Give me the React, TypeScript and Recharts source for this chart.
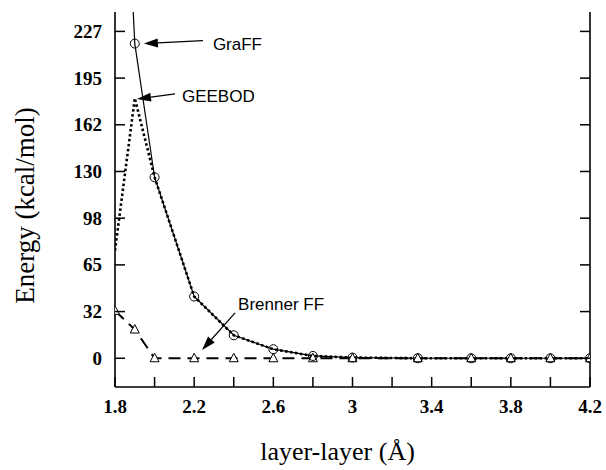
import React from "react";
import { LineChart, Line, XAxis, YAxis, ReferenceDot } from "recharts";

// layer-layer distance (Å)
const distances = [1.8, 1.9, 2.0, 2.2, 2.4, 2.6, 2.8, 3.0, 3.33, 3.6, 3.8, 4.0, 4.2];
// energies in kcal/mol
const graff = [500, 219, 126, 43, 16, 6.3, 1.6, 0.5, 0, 0, 0, 0, 0];
const geebod = [75, 181, 126, 43, 16, 6.3, 1.6, 0.5, 0, 0, 0, 0, 0];
const brenner = [33, 20, 0, 0, 0, 0, 0, 0, 0, 0, 0, 0, 0];

const xTicks = [1.8, 2.0, 2.2, 2.4, 2.6, 2.8, 3.0, 3.2, 3.4, 3.6, 3.8, 4.0, 4.2];
const xTickLabels = ["1.8", "", "2.2", "", "2.6", "", "3", "", "3.4", "", "3.8", "", "4.2"];
const yTicks = [0, 32.5, 65, 97.5, 130, 162.5, 195, 227.5];
const yTickLabels = ["0", "32", "65", "98", "130", "162", "195", "227"];

// callouts: text and where the arrow points (data coords)
const calloutText = ["GraFF", "GEEBOD", "Brenner FF"];
const calloutX = [1.946, 1.911, 2.24];
const calloutY = [219, 180.5, 5.8];

// pixel offsets of arrow tail and label relative to the tip
const calloutLayout = [
  { dx: 59, dy: -3, tx: 69, ty: 1 },
  { dx: 38, dy: -5, tx: 45, ty: -2 },
  { dx: 33, dy: -37, tx: 36, ty: -45 },
];

const rows = distances.map((x, i) => ({ x, graff: graff[i], geebod: geebod[i], brenner: brenner[i] }));

const serif = "'Liberation Serif', 'Times New Roman', serif";
const tickFont = { fontFamily: serif, fontWeight: 700, fontSize: 19 };

const BottomTick = (p: any) => {
  const label = xTickLabels[xTicks.indexOf(p.payload.value)] ?? "";
  return (
    <g>
      <line x1={p.x} x2={p.x} y1={p.y} y2={p.y - 10} stroke="#000" strokeWidth={1.5} />
      {label && (
        <text x={p.x} y={p.y + 26} textAnchor="middle" fill="#000" style={tickFont}>
          {label}
        </text>
      )}
    </g>
  );
};

const TopTick = (p: any) => (
  <line x1={p.x} x2={p.x} y1={p.y} y2={p.y + 11} stroke="#000" strokeWidth={1.5} />
);

const LeftTick = (p: any) => {
  const label = yTickLabels[yTicks.indexOf(p.payload.value)] ?? "";
  return (
    <g>
      <line x1={p.x} x2={p.x + 10} y1={p.y} y2={p.y} stroke="#000" strokeWidth={1.5} />
      <text x={p.x - 13} y={p.y} textAnchor="end" dominantBaseline="central" fill="#000" style={tickFont}>
        {label}
      </text>
    </g>
  );
};

const RightTick = (p: any) => (
  <line x1={p.x} x2={p.x - 10} y1={p.y} y2={p.y} stroke="#000" strokeWidth={1.5} />
);

const CircleDot = (p: any) =>
  p.cx == null || p.cy == null ? (
    <g key={p.key} />
  ) : (
    <circle key={p.key} cx={p.cx} cy={p.cy} r={4.5} fill="none" stroke="#000" strokeWidth={1} />
  );

const TriangleDot = (p: any) =>
  p.cx == null || p.cy == null ? (
    <g key={p.key} />
  ) : (
    <path
      key={p.key}
      d={`M${p.cx},${p.cy - 5} L${p.cx + 4.5},${p.cy + 3.5} L${p.cx - 4.5},${p.cy + 3.5} Z`}
      fill="#fff"
      stroke="#000"
      strokeWidth={1}
    />
  );

const makeArrow = (i: number) => (p: any) => {
  const { cx, cy } = p;
  const { dx, dy, tx, ty } = calloutLayout[i];
  const len = Math.hypot(dx, dy);
  const ux = dx / len;
  const uy = dy / len;
  const head = 14;
  const half = 4.5;
  const bx = cx + ux * head;
  const by = cy + uy * head;
  return (
    <g>
      <line x1={cx + dx} y1={cy + dy} x2={bx} y2={by} stroke="#000" strokeWidth={1.2} />
      <path
        d={`M${cx},${cy} L${bx - uy * half},${by + ux * half} L${bx + uy * half},${by - ux * half} Z`}
        fill="#000"
      />
      <text
        x={cx + tx}
        y={cy + ty}
        dominantBaseline="central"
        fill="#000"
        style={{ fontFamily: "'Liberation Sans', Arial, sans-serif", fontSize: 17, fontWeight: 400 }}
      >
        {calloutText[i]}
      </text>
    </g>
  );
};

const xTitle = (props: any) => {
  const vb = props.viewBox;
  return (
    <text
      x={vb.x + vb.width / 2 - 15}
      y={vb.y + 73}
      textAnchor="middle"
      fill="#000"
      style={{ fontFamily: serif, fontSize: 26, fontWeight: 400 }}
    >
      layer-layer (Å)
    </text>
  );
};

const yTitle = (props: any) => {
  const vb = props.viewBox;
  const cx = 25;
  const cy = vb.y + vb.height / 2 + 6;
  return (
    <text
      x={cx}
      y={cy}
      transform={`rotate(-90, ${cx}, ${cy})`}
      textAnchor="middle"
      dominantBaseline="central"
      fill="#000"
      style={{ fontFamily: serif, fontSize: 27, fontWeight: 400 }}
    >
      Energy (kcal/mol)
    </text>
  );
};

const axisStroke = { stroke: "#000", strokeWidth: 1.6 };

export default function App() {
  return (
    <div style={{ position: "absolute", left: 0, top: 0, background: "#fff" }}>
      <LineChart width={606} height={470} data={rows} margin={{ top: 12, right: 0, bottom: 0, left: 0 }}>
        <XAxis
          xAxisId="b"
          dataKey="x"
          type="number"
          domain={[1.8, 4.2]}
          ticks={xTicks}
          allowDataOverflow
          height={83}
          tickSize={0}
          tickMargin={0}
          tickLine={false}
          axisLine={axisStroke}
          tick={BottomTick}
          interval={0}
          label={xTitle}
        />
        <XAxis
          xAxisId="t"
          orientation="top"
          type="number"
          domain={[1.8, 4.2]}
          ticks={xTicks}
          allowDataOverflow
          height={0}
          tickSize={0}
          tickMargin={0}
          tickLine={false}
          axisLine={axisStroke}
          tick={TopTick}
          interval={0}
        />
        <YAxis
          yAxisId="l"
          type="number"
          domain={[-20, 241]}
          ticks={yTicks}
          allowDataOverflow
          width={115}
          tickSize={0}
          tickMargin={0}
          tickLine={false}
          axisLine={axisStroke}
          tick={LeftTick}
          interval={0}
          label={yTitle}
        />
        <YAxis
          yAxisId="r"
          orientation="right"
          type="number"
          domain={[-20, 241]}
          ticks={yTicks}
          allowDataOverflow
          width={16}
          tickSize={0}
          tickMargin={0}
          tickLine={false}
          axisLine={axisStroke}
          tick={RightTick}
          interval={0}
        />
        <Line
          xAxisId="b"
          yAxisId="l"
          dataKey="brenner"
          type="linear"
          stroke="#000"
          strokeWidth={2}
          strokeDasharray="12 7"
          dot={TriangleDot}
          isAnimationActive={false}
        />
        <Line
          xAxisId="b"
          yAxisId="l"
          dataKey="geebod"
          type="linear"
          stroke="#000"
          strokeWidth={2.6}
          strokeDasharray="2.5 2.5"
          dot={false}
          isAnimationActive={false}
        />
        <Line
          xAxisId="b"
          yAxisId="l"
          dataKey="graff"
          type="linear"
          stroke="#000"
          strokeWidth={1.2}
          dot={CircleDot}
          isAnimationActive={false}
        />
        {calloutText.map((t, i) => (
          <ReferenceDot
            key={t}
            xAxisId="b"
            yAxisId="l"
            x={calloutX[i]}
            y={calloutY[i]}
            r={0}
            shape={makeArrow(i)}
          />
        ))}
      </LineChart>
    </div>
  );
}
